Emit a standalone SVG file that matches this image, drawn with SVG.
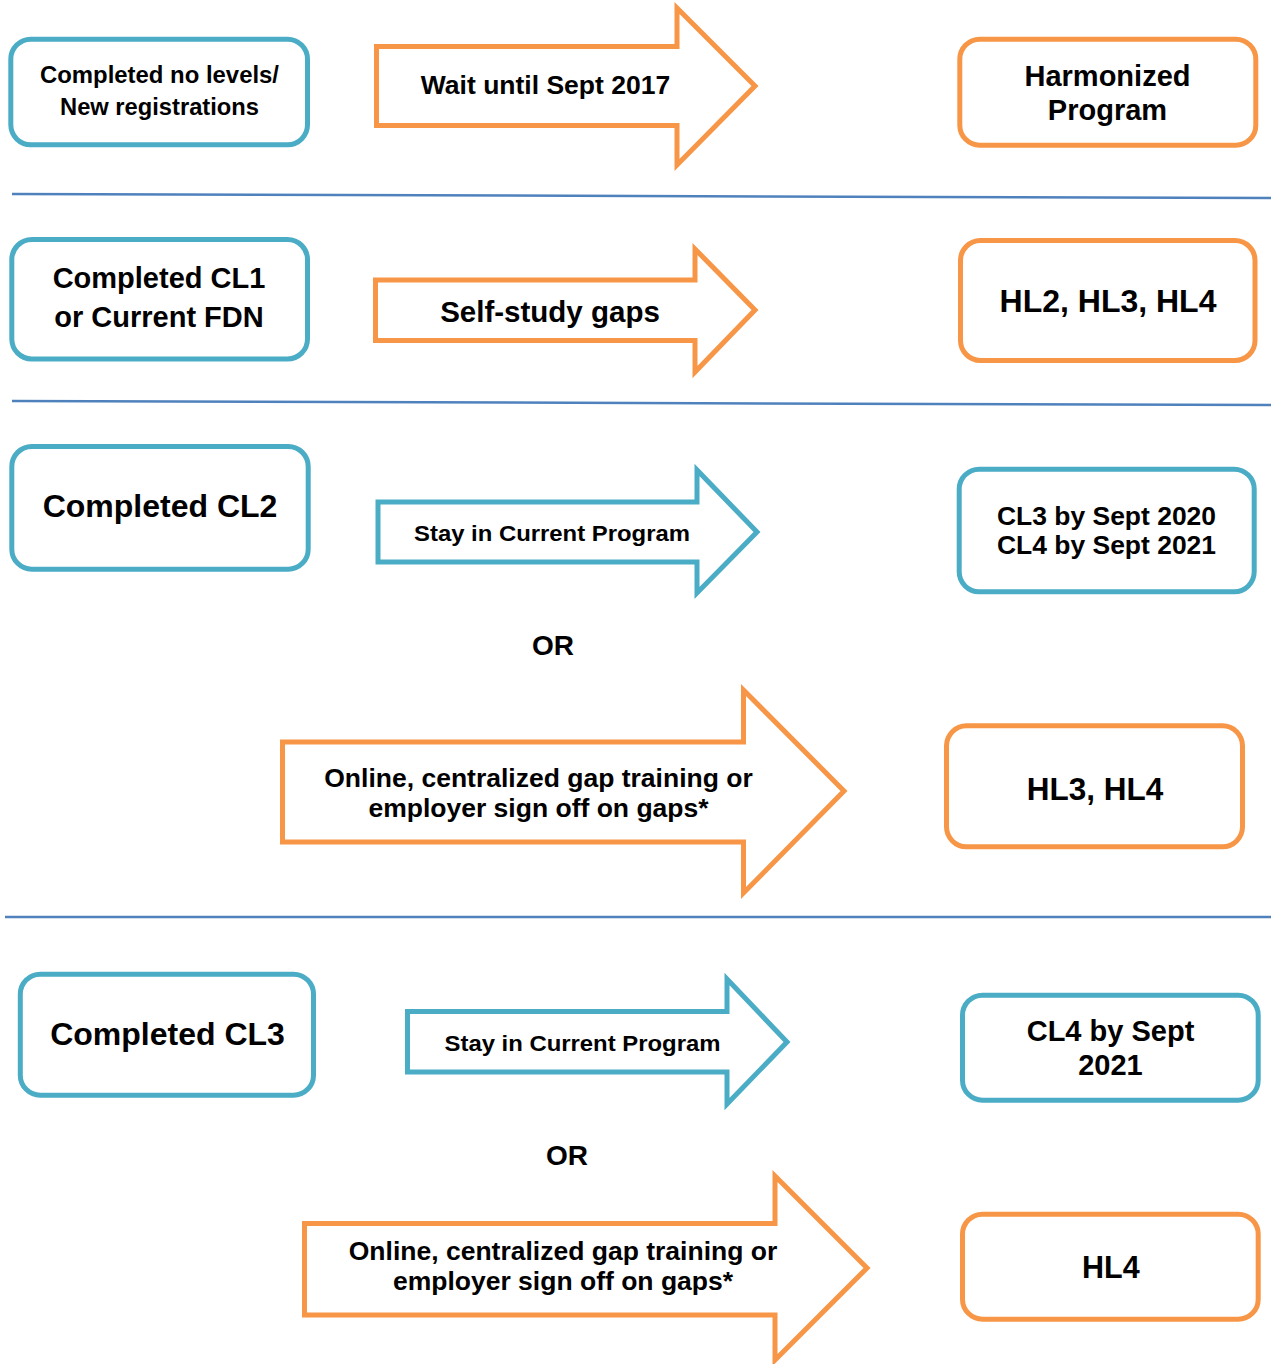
<svg xmlns="http://www.w3.org/2000/svg" width="1271" height="1364" viewBox="0 0 1271 1364">
<style>
.bb{fill:#fff;stroke:#4BACC6;stroke-width:5}
.ob{fill:#fff;stroke:#F79646;stroke-width:5}
.ba{fill:#fff;stroke:#4BACC6;stroke-width:5;stroke-linejoin:miter}
.oa{fill:#fff;stroke:#F79646;stroke-width:5;stroke-linejoin:miter}
.sep{stroke:#4F81BD;stroke-width:2.5;fill:none}
text{font-family:"Liberation Sans",Arial,Helvetica,sans-serif;font-weight:bold;fill:#000;text-anchor:middle}
</style>
<rect width="1271" height="1364" fill="#fff"/>
<g id="separators">
<line class="sep" x1="12" y1="194" x2="1271" y2="198"/>
<line class="sep" x1="12" y1="401" x2="1271" y2="405"/>
<line class="sep" x1="5" y1="917" x2="1271" y2="917"/>
</g>
<g id="connectors">
<g id="arrow-wait">
<polygon class="oa" points="376.5,46.5 677,46.5 677,8 755,86 677,165 677,125.5 376.5,125.5"/>
<text x="545.5" y="94" font-size="26.5">Wait until Sept 2017</text>
</g>
<g id="arrow-selfstudy">
<polygon class="oa" points="375.5,280 695,280 695,249 755,310 695,372 695,340.5 375.5,340.5"/>
<text x="550" y="321.5" font-size="29.5">Self-study gaps</text>
</g>
<g id="arrow-stay1">
<polygon class="ba" points="378,502 697,502 697,470 757,532 697,593 697,562 378,562"/>
<text x="552" y="541" font-size="22.5" textLength="276" lengthAdjust="spacingAndGlyphs">Stay in Current Program</text>
</g>
<g id="arrow-online1">
<polygon class="oa" points="282.5,742 743.5,742 743.5,690 844,791 743.5,893 743.5,842 282.5,842"/>
<text x="538.5" y="786.5" font-size="26.5">Online, centralized gap training or</text>
<text x="538.5" y="816.5" font-size="26.5">employer sign off on gaps*</text>
</g>
<g id="arrow-stay2">
<polygon class="ba" points="407.5,1011.5 727,1011.5 727,979 787,1042 727,1104 727,1072 407.5,1072"/>
<text x="582.5" y="1051" font-size="22.5" textLength="276" lengthAdjust="spacingAndGlyphs">Stay in Current Program</text>
</g>
<g id="arrow-online2">
<polygon class="oa" points="304.5,1223.5 775,1223.5 775,1176 867,1268 775,1360 775,1315 304.5,1315"/>
<text x="563" y="1260" font-size="26.5">Online, centralized gap training or</text>
<text x="563" y="1290" font-size="26.5">employer sign off on gaps*</text>
</g>
</g>
<g id="or1"><text x="553" y="655" font-size="28">OR</text></g>
<g id="or2"><text x="567" y="1165" font-size="28">OR</text></g>
<g id="node-nolevels">
<rect class="bb" x="10.8" y="39.2" width="296.7" height="105.6" rx="20"/>
<text x="159.5" y="83" font-size="23.5" textLength="239" lengthAdjust="spacingAndGlyphs">Completed no levels/</text>
<text x="159.5" y="115" font-size="23.5" textLength="199" lengthAdjust="spacingAndGlyphs">New registrations</text>
</g>
<g id="node-harmonized">
<rect class="ob" x="959.8" y="39.2" width="296" height="106" rx="20"/>
<text x="1107.5" y="85.5" font-size="29">Harmonized</text>
<text x="1107.5" y="120" font-size="29">Program</text>
</g>
<g id="node-cl1">
<rect class="bb" x="11.8" y="239.5" width="295.7" height="119.5" rx="20"/>
<text x="159" y="288" font-size="29">Completed CL1</text>
<text x="159" y="327" font-size="29">or Current FDN</text>
</g>
<g id="node-hl234">
<rect class="ob" x="960.5" y="240.5" width="294.5" height="120" rx="20"/>
<text x="1108" y="312" font-size="32">HL2, HL3, HL4</text>
</g>
<g id="node-cl2">
<rect class="bb" x="11.8" y="446.5" width="296.4" height="122.7" rx="20"/>
<text x="160" y="517" font-size="32">Completed CL2</text>
</g>
<g id="node-cl34">
<rect class="bb" x="959.2" y="469.2" width="295" height="122.6" rx="20"/>
<text x="1106.5" y="525" font-size="25" textLength="219" lengthAdjust="spacingAndGlyphs">CL3 by Sept 2020</text>
<text x="1106.5" y="554" font-size="25" textLength="219" lengthAdjust="spacingAndGlyphs">CL4 by Sept 2021</text>
</g>
<g id="node-hl34">
<rect class="ob" x="946.5" y="725.8" width="296" height="121" rx="20"/>
<text x="1095" y="799.5" font-size="31.5">HL3, HL4</text>
</g>
<g id="node-cl3">
<rect class="bb" x="20.3" y="974.2" width="293.2" height="121" rx="20"/>
<text x="167.5" y="1045" font-size="32">Completed CL3</text>
</g>
<g id="node-cl4">
<rect class="bb" x="962.5" y="995.2" width="295.7" height="105" rx="20"/>
<text x="1110.5" y="1041" font-size="29">CL4 by Sept</text>
<text x="1110.5" y="1075" font-size="29">2021</text>
</g>
<g id="node-hl4">
<rect class="ob" x="962.5" y="1214.2" width="295.7" height="105" rx="20"/>
<text x="1110.8" y="1278" font-size="30.5">HL4</text>
</g>
</svg>
